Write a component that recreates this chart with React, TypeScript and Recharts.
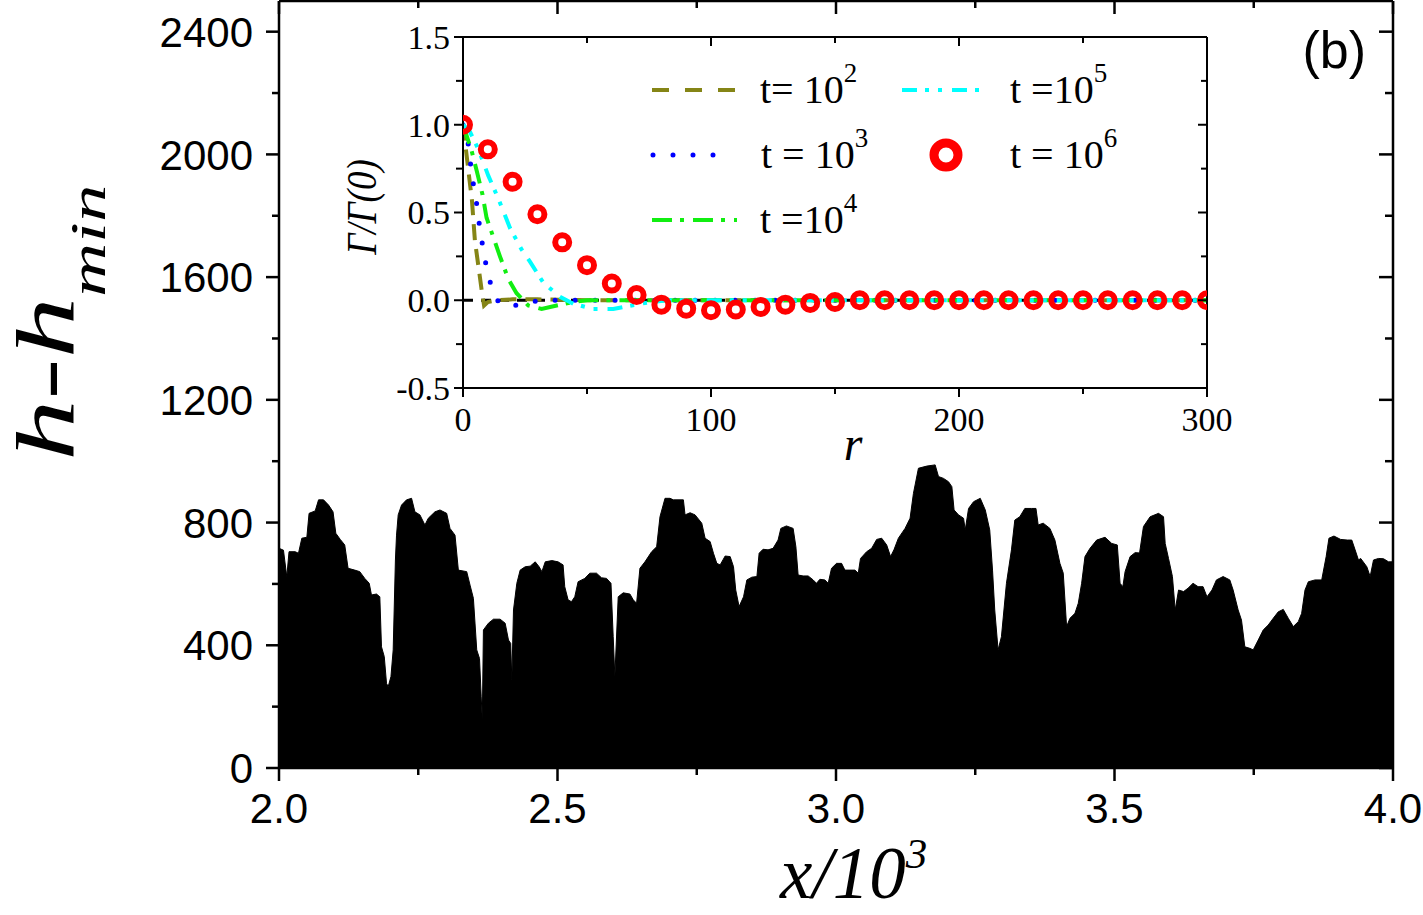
import React from "react"
import { AreaChart, Area, LineChart, Line, XAxis, YAxis, ReferenceLine, Legend, Label } from "recharts"

// surface profile h - h_min against x / 10^3
const profileX = [
  2.000, 2.008, 2.014, 2.018, 2.029, 2.035, 2.041, 2.050, 2.054, 2.065,
  2.071, 2.080, 2.089, 2.097, 2.102, 2.110, 2.118, 2.124, 2.136, 2.145,
  2.154, 2.162, 2.166, 2.175, 2.181, 2.184, 2.189, 2.193, 2.196, 2.201,
  2.205, 2.209, 2.211, 2.214, 2.220, 2.229, 2.238, 2.244, 2.253, 2.262,
  2.268, 2.280, 2.289, 2.301, 2.307, 2.316, 2.322, 2.337, 2.343, 2.349,
  2.355, 2.360, 2.363, 2.365, 2.367, 2.376, 2.385, 2.397, 2.406, 2.412,
  2.416, 2.418, 2.421, 2.427, 2.433, 2.442, 2.451, 2.460, 2.467, 2.472,
  2.478, 2.490, 2.501, 2.510, 2.513, 2.519, 2.525, 2.531, 2.537, 2.549,
  2.558, 2.570, 2.579, 2.588, 2.596, 2.600, 2.603, 2.609, 2.618, 2.630,
  2.636, 2.642, 2.648, 2.657, 2.669, 2.678, 2.684, 2.693, 2.702, 2.708,
  2.726, 2.729, 2.738, 2.747, 2.759, 2.765, 2.774, 2.780, 2.786, 2.792,
  2.801, 2.810, 2.816, 2.820, 2.826, 2.834, 2.840, 2.849, 2.858, 2.862,
  2.869, 2.878, 2.887, 2.896, 2.901, 2.911, 2.923, 2.928, 2.932, 2.941,
  2.950, 2.959, 2.965, 2.971, 2.980, 2.986, 2.992, 3.001, 3.010, 3.016,
  3.025, 3.034, 3.040, 3.044, 3.055, 3.064, 3.073, 3.082, 3.091, 3.098,
  3.104, 3.112, 3.124, 3.133, 3.139, 3.148, 3.163, 3.178, 3.184, 3.193,
  3.202, 3.208, 3.212, 3.220, 3.229, 3.232, 3.238, 3.247, 3.259, 3.268,
  3.276, 3.281, 3.285, 3.291, 3.297, 3.306, 3.315, 3.321, 3.330, 3.339,
  3.351, 3.359, 3.363, 3.372, 3.384, 3.393, 3.402, 3.408, 3.414, 3.420,
  3.429, 3.435, 3.441, 3.447, 3.456, 3.468, 3.483, 3.495, 3.505, 3.510,
  3.515, 3.519, 3.528, 3.537, 3.545, 3.552, 3.564, 3.579, 3.588, 3.591,
  3.597, 3.604, 3.609, 3.615, 3.624, 3.632, 3.641, 3.650, 3.659, 3.666,
  3.675, 3.683, 3.695, 3.707, 3.713, 3.722, 3.728, 3.734, 3.743, 3.749,
  3.758, 3.767, 3.776, 3.785, 3.794, 3.803, 3.812, 3.821, 3.830, 3.836,
  3.842, 3.848, 3.860, 3.872, 3.880, 3.885, 3.894, 3.906, 3.918, 3.926,
  3.932, 3.938, 3.942, 3.953, 3.959, 3.965, 3.974, 3.983, 3.992, 4.000,
]
const profileH = [
  716, 710, 623, 705, 705, 700, 749, 752, 830, 838,
  874, 874, 857, 835, 765, 745, 727, 651, 645, 640,
  618, 602, 564, 567, 558, 395, 363, 276, 265, 298,
  385, 678, 759, 825, 857, 874, 879, 835, 825, 792,
  814, 835, 841, 830, 781, 759, 645, 640, 596, 553,
  385, 357, 232, 156, 450, 472, 485, 485, 472, 417,
  406, 287, 515, 602, 645, 656, 658, 672, 656, 640,
  672, 676, 672, 662, 591, 548, 542, 558, 607, 618,
  635, 635, 620, 618, 602, 428, 298, 558, 571, 567,
  548, 537, 651, 672, 705, 721, 819, 879, 879, 874,
  874, 825, 832, 825, 798, 749, 738, 700, 667, 662,
  691, 689, 656, 580, 526, 558, 613, 622, 624, 700,
  713, 711, 716, 743, 781, 789, 781, 721, 629, 626,
  626, 613, 602, 615, 613, 602, 651, 667, 667, 645,
  645, 645, 635, 683, 705, 716, 745, 749, 727, 689,
  711, 749, 781, 814, 895, 977, 984, 988, 950, 944,
  933, 917, 841, 825, 814, 776, 846, 868, 879, 841,
  776, 645, 515, 385, 428, 602, 711, 808, 819, 846,
  846, 846, 792, 798, 781, 743, 667, 635, 461, 488,
  504, 537, 602, 689, 716, 743, 752, 732, 727, 602,
  591, 640, 689, 702, 701, 787, 819, 830, 819, 732,
  683, 624, 515, 580, 575, 586, 602, 591, 591, 558,
  580, 613, 624, 613, 580, 515, 482, 395, 390, 385,
  417, 450, 466, 488, 509, 517, 488, 461, 477, 504,
  580, 607, 613, 613, 689, 749, 756, 745, 743, 743,
  711, 678, 683, 656, 624, 678, 683, 682, 672, 672,
]

// inset: Gamma(r)/Gamma(0) for each time
const r2 = [0, 1.5, 3.6, 4.8, 7.7, 8.5, 10, 14, 20, 30, 50, 100, 150, 200, 250, 300]
const g2 = [1.0, 0.82, 0.57, 0.34, 0.04, -0.03, -0.01, 0, 0.005, 0.005, 0, 0, 0, 0, 0, 0]
const r3 = [0, 2.1, 3.1, 4.2, 5.5, 6.6, 7.8, 9.3, 11.2, 14.6, 22.7, 30.7, 50, 100, 150, 200, 250, 300]
const g3 = [1.0, 0.89, 0.77, 0.66, 0.55, 0.43, 0.32, 0.2, 0.09, -0.02, -0.03, 0, 0, 0, 0, 0, 0, 0]
const r4 = [0, 3.5, 5.5, 7.9, 9.5, 12.2, 14.9, 18.3, 21.6, 26.3, 31.7, 37.8, 44.5, 50, 100, 150, 200, 250, 300]
const g4 = [1.0, 0.85, 0.74, 0.6, 0.47, 0.36, 0.25, 0.12, 0.04, -0.03, -0.05, -0.03, -0.01, 0, 0, 0, 0, 0, 0]
const r5 = [0, 2.8, 6.2, 10.2, 14.2, 19, 23.6, 27, 32.4, 39.1, 44.5, 52.6, 60.6, 71.4, 82, 100, 150, 200, 250, 300]
const g5 = [1.0, 0.96, 0.86, 0.71, 0.58, 0.41, 0.29, 0.22, 0.1, 0.02, -0.02, -0.05, -0.05, -0.02, 0, 0, 0, 0, 0, 0]
const r6 = [0, 10, 20, 30, 40, 50, 60, 70, 80, 90, 100, 110, 120, 130, 140, 150, 160, 170, 180, 190, 200, 210, 220, 230, 240, 250, 260, 270, 280, 290, 300]
const g6 = [1.0, 0.86, 0.675, 0.49, 0.33, 0.2, 0.095, 0.03, -0.025, -0.048, -0.057, -0.053, -0.038, -0.025, -0.015, -0.01, 0, 0, 0, 0, 0, 0, 0, 0, 0, 0, 0, 0, 0, 0, 0]

const mainXTicks = [2, 2.25, 2.5, 2.75, 3, 3.25, 3.5, 3.75, 4]
const mainYTicks = [0, 200, 400, 600, 800, 1000, 1200, 1400, 1600, 1800, 2000, 2200, 2400]
const insetXTicks = [0, 50, 100, 150, 200, 250, 300]
const insetYTicks = [-0.5, -0.25, 0, 0.25, 0.5, 0.75, 1, 1.25, 1.5]

const legendText = ["t= 10", "t = 10", "t =10", "t =10", "t = 10"]
const legendExp = ["2", "3", "4", "5", "6"]

const SERIF = "'Liberation Serif', 'Times New Roman', Times, serif"
const SANS = "'Liberation Sans', Arial, Helvetica, sans-serif"

const OLIVE = "#858516"
const BLUE = "#0000ff"
const GREEN = "#11ee11"
const CYAN = "#00ffff"
const RED = "#ff0000"

const DASH2 = "16 9"
const DASH3 = "0 20"
const DASH4 = "20 8 4 9"
const DASH5 = "15 8 4 9 4 10"

// layout
const W = 1423
const H = 915
const MAIN = { left: 279, right: 1393, top: 1, bottom: 768 }
const MAIN_YW = 120
const MAIN_XH = 100
const BOX = { left: 300, top: 0, width: 950, height: 490 }
const INSET = { left: 163, right: 907, top: 37, bottom: 388 }
const INSET_YW = 100
const INSET_XH = 60

const profile = profileX.map((x, i) => ({ x, h: profileH[i] }))
const pts = (rs: number[], gs: number[]) => rs.map((r, i) => ({ r, g: gs[i] }))

const isHalf = (v: number) => Math.abs(v * 2 - Math.round(v * 2)) < 1e-6

const MainBottomTick = ({ x, y, payload }: any) => {
  const major = isHalf(payload.value)
  return (
    <g>
      <line x1={x} x2={x} y1={y} y2={y + (major ? 13 : 7)} stroke="#000" strokeWidth={2.5} />
      {major && (
        <text x={x} y={y + 55} textAnchor="middle" fontFamily={SANS} fontSize={42} fill="#000">
          {payload.value.toFixed(1)}
        </text>
      )}
    </g>
  )
}

const MainTopTick = ({ x, y, payload }: any) => {
  const major = isHalf(payload.value)
  return <line x1={x} x2={x} y1={y} y2={y + (major ? 13 : 7)} stroke="#000" strokeWidth={2.5} />
}

const MainLeftTick = ({ x, y, payload }: any) => {
  const major = payload.value % 400 === 0
  return (
    <g>
      <line x1={x - (major ? 13 : 7)} x2={x} y1={y} y2={y} stroke="#000" strokeWidth={2.5} />
      {major && (
        <text x={x - 26} y={y} dy="0.36em" textAnchor="end" fontFamily={SANS} fontSize={42} fill="#000">
          {payload.value}
        </text>
      )}
    </g>
  )
}

const MainRightTick = ({ x, y, payload }: any) => {
  const major = payload.value % 400 === 0
  return <line x1={x - (major ? 14 : 8)} x2={x} y1={y} y2={y} stroke="#000" strokeWidth={2.5} />
}

const InsetBottomTick = ({ x, y, payload }: any) => {
  const major = payload.value % 100 === 0
  return (
    <g>
      <line x1={x} x2={x} y1={y} y2={y + (major ? 9 : 6)} stroke="#000" strokeWidth={2} />
      {major && (
        <text x={x} y={y + 43} textAnchor="middle" fontFamily={SERIF} fontSize={34} fill="#000">
          {payload.value}
        </text>
      )}
    </g>
  )
}

const InsetTopTick = ({ x, y, payload }: any) => {
  const major = payload.value % 100 === 0
  return <line x1={x} x2={x} y1={y} y2={y + (major ? 9 : 6)} stroke="#000" strokeWidth={2} />
}

const InsetLeftTick = ({ x, y, payload }: any) => {
  const major = isHalf(payload.value)
  return (
    <g>
      <line x1={x - (major ? 9 : 7)} x2={x} y1={y} y2={y} stroke="#000" strokeWidth={2} />
      {major && (
        <text x={x - 13} y={y} dy="0.35em" textAnchor="end" fontFamily={SERIF} fontSize={34} fill="#000">
          {payload.value.toFixed(1)}
        </text>
      )}
    </g>
  )
}

const InsetRightTick = ({ x, y, payload }: any) => {
  const major = isHalf(payload.value)
  return <line x1={x - (major ? 9 : 6)} x2={x} y1={y} y2={y} stroke="#000" strokeWidth={2} />
}

// red open circles, clipped at the inset frame like the original
const RingDot = ({ cx, cy, index }: any) => {
  if (cx == null || cy == null) return <g />
  const id = `ring-clip-${index}`
  return (
    <g>
      <clipPath id={id}>
        <rect x={INSET.left} y={INSET.top} width={INSET.right - INSET.left} height={INSET.bottom - INSET.top} />
      </clipPath>
      <circle cx={cx} cy={cy} r={7} fill="none" stroke={RED} strokeWidth={6} clipPath={`url(#${id})`} />
    </g>
  )
}

const MainXTitle = () => (
  <text x={780} y={898} fontFamily={SERIF} fontStyle="italic" fontSize={73} fill="#000">
    x/10<tspan dy={-30} fontSize={43}>3</tspan>
  </text>
)

const MainYTitle = () => (
  <g>
    <text
      transform="translate(73,461) rotate(-90) scale(1.5,1)"
      fontFamily={SERIF}
      fontStyle="italic"
      fontSize={82}
      fill="#000"
    >
      h-h<tspan dy={32} fontSize={50}>min</tspan>
    </text>
    <text x={1366} y={68} textAnchor="end" fontFamily={SANS} fontSize={52} fill="#000">
      (b)
    </text>
  </g>
)

const InsetXTitle = () => (
  <text x={553} y={460} textAnchor="middle" fontFamily={SERIF} fontStyle="italic" fontSize={48} fill="#000">
    r
  </text>
)

const InsetYTitle = () => (
  <text
    transform="translate(76,207) rotate(-90) scale(0.88,1)"
    textAnchor="middle"
    fontFamily={SERIF}
    fontStyle="italic"
    fontSize={42}
    fill="#000"
  >
    Γ/Γ(0)
  </text>
)

const LegendLabel = ({ x, y, i }: { x: number; y: number; i: number }) => (
  <text x={x} y={y} fontFamily={SERIF} fontSize={40} fill="#000">
    {legendText[i]}
    <tspan dy={-21} fontSize={27}>{legendExp[i]}</tspan>
  </text>
)

const InsetLegend = () => (
  <svg width={490} height={180} style={{ overflow: "visible" }}>
    <line x1={12} x2={95} y1={30} y2={30} stroke={OLIVE} strokeWidth={4} strokeDasharray="17 16" />
    <LegendLabel x={120} y={43} i={0} />
    <line x1={13} x2={93} y1={95} y2={95} stroke={BLUE} strokeWidth={5} strokeDasharray={DASH3} strokeLinecap="round" />
    <LegendLabel x={121} y={108} i={1} />
    <line x1={12} x2={97} y1={160} y2={160} stroke={GREEN} strokeWidth={4} strokeDasharray={DASH4} />
    <LegendLabel x={120} y={173} i={2} />
    <line x1={262} x2={341} y1={30} y2={30} stroke={CYAN} strokeWidth={4} strokeDasharray={DASH5} />
    <LegendLabel x={370} y={43} i={3} />
    <circle cx={306} cy={95} r={12} fill="none" stroke={RED} strokeWidth={9} />
    <LegendLabel x={370} y={108} i={4} />
  </svg>
)

const mainAxisLine = { stroke: "#000", strokeWidth: 2.5 }
const insetAxisLine = { stroke: "#000", strokeWidth: 2 }

export default function App() {
  return (
    <div style={{ position: "absolute", left: 0, top: 0, width: W, height: H, background: "#fff" }}>
      <AreaChart
        width={W}
        height={H}
        data={profile}
        margin={{ top: MAIN.top - 1, right: W - MAIN.right - 1, left: MAIN.left - MAIN_YW, bottom: H - MAIN.bottom - MAIN_XH }}
      >
        <XAxis
          xAxisId="b"
          type="number"
          dataKey="x"
          domain={[2, 4]}
          ticks={mainXTicks}
          interval={0}
          allowDataOverflow
          height={MAIN_XH}
          tickSize={0}
          tickMargin={0}
          tickLine={false}
          axisLine={mainAxisLine}
          tick={MainBottomTick}
        >
          <Label content={MainXTitle} />
        </XAxis>
        <XAxis
          xAxisId="t"
          orientation="top"
          type="number"
          dataKey="x"
          domain={[2, 4]}
          ticks={mainXTicks}
          interval={0}
          allowDataOverflow
          height={1}
          tickSize={0}
          tickMargin={0}
          tickLine={false}
          axisLine={mainAxisLine}
          tick={MainTopTick}
        />
        <YAxis
          yAxisId="l"
          type="number"
          domain={[0, 2500]}
          ticks={mainYTicks}
          interval={0}
          allowDataOverflow
          width={MAIN_YW}
          tickSize={0}
          tickMargin={0}
          tickLine={false}
          axisLine={mainAxisLine}
          tick={MainLeftTick}
        >
          <Label content={MainYTitle} />
        </YAxis>
        <YAxis
          yAxisId="r"
          orientation="right"
          type="number"
          domain={[0, 2500]}
          ticks={mainYTicks}
          interval={0}
          allowDataOverflow
          width={1}
          tickSize={0}
          tickMargin={0}
          tickLine={false}
          axisLine={mainAxisLine}
          tick={MainRightTick}
        />
        <Area
          xAxisId="b"
          yAxisId="l"
          type="linear"
          dataKey="h"
          stroke="#000"
          strokeWidth={1}
          fill="#000"
          fillOpacity={1}
          isAnimationActive={false}
        />
        {/* invisible copy that ties the mirrored frame axes to the data */}
        <Area
          xAxisId="t"
          yAxisId="r"
          type="linear"
          dataKey="h"
          stroke="none"
          fill="none"
          isAnimationActive={false}
        />
      </AreaChart>

      <div style={{ position: "absolute", left: BOX.left, top: BOX.top }}>
        <LineChart
          width={BOX.width}
          height={BOX.height}
          margin={{
            top: INSET.top - 1,
            right: BOX.width - INSET.right - 1,
            left: INSET.left - INSET_YW,
            bottom: BOX.height - INSET.bottom - INSET_XH,
          }}
        >
          <XAxis
            xAxisId="b"
            type="number"
            dataKey="r"
            domain={[0, 300]}
            ticks={insetXTicks}
            interval={0}
            allowDataOverflow
            height={INSET_XH}
            tickSize={0}
            tickMargin={0}
            tickLine={false}
            axisLine={insetAxisLine}
            tick={InsetBottomTick}
          >
            <Label content={InsetXTitle} />
          </XAxis>
          <XAxis
            xAxisId="t"
            orientation="top"
            type="number"
            dataKey="r"
            domain={[0, 300]}
            ticks={insetXTicks}
            interval={0}
            allowDataOverflow
            height={1}
            tickSize={0}
            tickMargin={0}
            tickLine={false}
            axisLine={insetAxisLine}
            tick={InsetTopTick}
          />
          <YAxis
            yAxisId="l"
            type="number"
            domain={[-0.5, 1.5]}
            ticks={insetYTicks}
            interval={0}
            allowDataOverflow
            width={INSET_YW}
            tickSize={0}
            tickMargin={0}
            tickLine={false}
            axisLine={insetAxisLine}
            tick={InsetLeftTick}
          >
            <Label content={InsetYTitle} />
          </YAxis>
          <YAxis
            yAxisId="r"
            orientation="right"
            type="number"
            domain={[-0.5, 1.5]}
            ticks={insetYTicks}
            interval={0}
            allowDataOverflow
            width={1}
            tickSize={0}
            tickMargin={0}
            tickLine={false}
            axisLine={insetAxisLine}
            tick={InsetRightTick}
          />
          <ReferenceLine xAxisId="b" yAxisId="l" y={0} stroke="#000" strokeWidth={3} strokeDasharray="10 8" />
          <Line
            xAxisId="t"
            yAxisId="r"
            data={pts(r6, g6)}
            dataKey="g"
            type="linear"
            stroke="none"
            dot={false}
            legendType="none"
            isAnimationActive={false}
          />
          <Line
            xAxisId="b"
            yAxisId="l"
            data={pts(r6, g6)}
            dataKey="g"
            type="linear"
            stroke="none"
            strokeWidth={0}
            dot={RingDot}
            isAnimationActive={false}
          />
          <Line xAxisId="b" yAxisId="l" data={pts(r2, g2)} dataKey="g" type="linear" stroke={OLIVE} strokeWidth={4} strokeDasharray={DASH2} dot={false} isAnimationActive={false} />
          <Line xAxisId="b" yAxisId="l" data={pts(r3, g3)} dataKey="g" type="linear" stroke={BLUE} strokeWidth={5} strokeDasharray={DASH3} strokeLinecap="round" dot={false} isAnimationActive={false} />
          <Line xAxisId="b" yAxisId="l" data={pts(r4, g4)} dataKey="g" type="linear" stroke={GREEN} strokeWidth={4} strokeDasharray={DASH4} dot={false} isAnimationActive={false} />
          <Line xAxisId="b" yAxisId="l" data={pts(r5, g5)} dataKey="g" type="linear" stroke={CYAN} strokeWidth={4} strokeDasharray={DASH5} dot={false} isAnimationActive={false} />
          <Legend
            layout="horizontal"
            verticalAlign="middle"
            align="center"
            width={490}
            height={180}
            wrapperStyle={{ left: 340, top: 60, width: 490, height: 180 }}
            content={() => <InsetLegend />}
          />
        </LineChart>
      </div>
    </div>
  )
}
